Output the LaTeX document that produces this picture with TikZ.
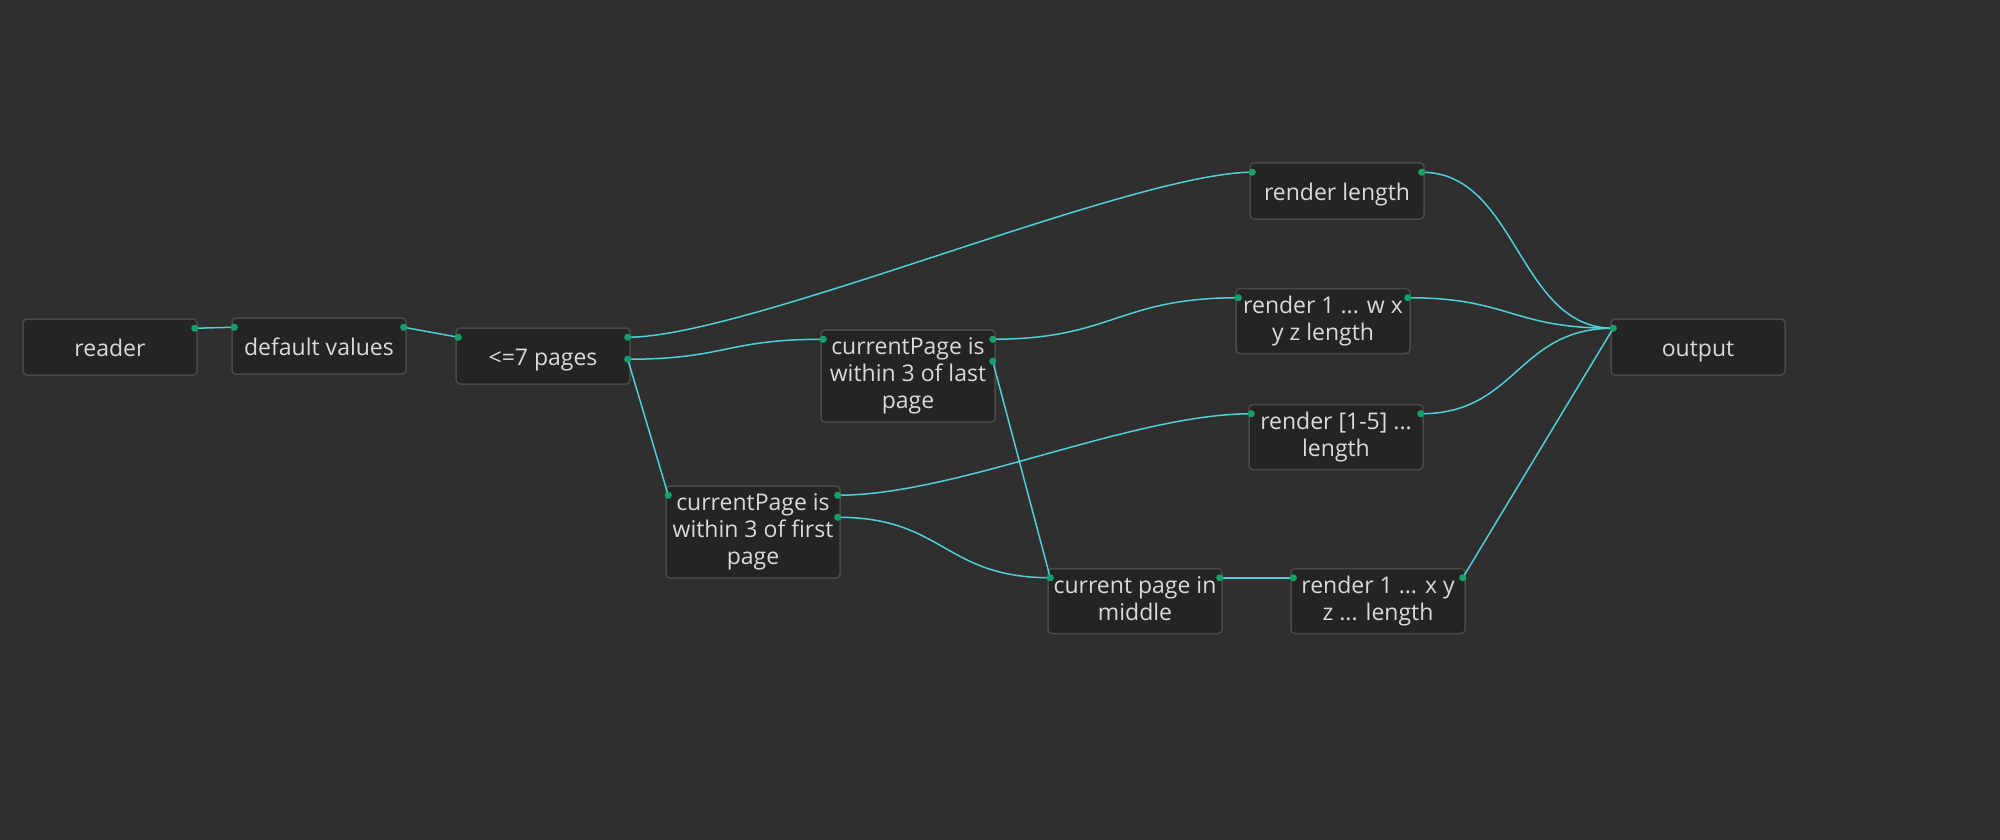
\documentclass[tikz,border=0pt]{standalone}
\usepackage{fontspec}
\setmainfont{Open Sans}
\usetikzlibrary{calc}
\definecolor{bgc}{HTML}{2F2F2F}
\definecolor{boxfill}{HTML}{242424}
\definecolor{boxline}{HTML}{4A4A4A}
\definecolor{txt}{HTML}{DADADA}
\definecolor{wirec}{HTML}{4FD0D8}
\definecolor{dotc}{HTML}{17A06A}
\newcommand\mkports[1]{%
  \coordinate (#1-in) at ($(#1.north west)+(3,-10)$);
  \coordinate (#1-o1) at ($(#1.north east)+(-3,-10)$);
  \coordinate (#1-o2) at ($(#1.north east)+(-3,-32)$);
}
\newcommand\wirecurve[2]{\draw[wire] let \p1=(#1), \p2=(#2), \n1={min((\x2-\x1)/2,120)} in (\p1) .. controls +(\n1,0) and +(-\n1,0) .. (\p2);}
\newcommand\portdot[1]{\fill[dotc] (#1) circle (3.6);}
\begin{document}
\begin{tikzpicture}[x=1pt,y=1pt,
  box/.style={draw=boxline, line width=1.5pt, fill=boxfill, rounded corners=4pt,
    minimum width=174pt, text=txt, align=center, inner sep=0pt,
    font=\fontsize{23}{27}\selectfont,
    execute at begin node={\rule{0pt}{24pt}},
    execute at end node={\rule[-5pt]{0pt}{5pt}}},
  hone/.style={minimum height=56pt},
  htwo/.style={minimum height=65pt, execute at begin node={\rule{0pt}{29pt}}},
  hthree/.style={minimum height=92pt, execute at begin node={\rule{0pt}{29pt}}},
  wire/.style={draw=wirec, line width=1.5pt}]
\fill[bgc] (0,0) rectangle (2000,-840);
\useasboundingbox (0,0) rectangle (2000,-840);

\node[box,hone] (reader) at (110,-347) {reader};
\node[box,hone] (defaults) at (319,-346) {default values};
\node[box,hone] (le7) at (543,-356) {<=7 pages};
\node[box,hthree] (last) at (908,-376) {currentPage is\\within 3 of last\\page};
\node[box,hthree] (first) at (753,-532) {currentPage is\\within 3 of first\\page};
\node[box,hone] (rlen) at (1337,-191) {render length};
\node[box,htwo] (rwx) at (1323,-321) {render 1 ... w x\\y z length};
\node[box,htwo] (r15) at (1336,-437) {render [1-5] ...\\length};
\node[box,htwo] (middle) at (1135,-601) {current page in\\middle};
\node[box,htwo] (rxyz) at (1378,-601) {render 1 ... x y\\z ... length};
\node[box,hone] (output) at (1698,-347) {output};

\mkports{reader}\mkports{defaults}\mkports{le7}\mkports{last}\mkports{first}
\mkports{rlen}\mkports{rwx}\mkports{r15}\mkports{middle}\mkports{rxyz}\mkports{output}

\draw[wire] (reader-o1) -- (defaults-in);
\draw[wire] (defaults-o1) -- (le7-in);
\wirecurve{le7-o1}{rlen-in}
\wirecurve{le7-o2}{last-in}
\draw[wire] (le7-o2) -- (first-in);
\wirecurve{last-o1}{rwx-in}
\draw[wire] (last-o2) -- (middle-in);
\wirecurve{first-o1}{r15-in}
\wirecurve{first-o2}{middle-in}
\draw[wire] (middle-o1) -- (rxyz-in);
\wirecurve{rlen-o1}{output-in}
\wirecurve{rwx-o1}{output-in}
\wirecurve{r15-o1}{output-in}
\draw[wire] (rxyz-o1) -- (output-in);

\portdot{reader-o1}
\portdot{defaults-in}\portdot{defaults-o1}
\portdot{le7-in}\portdot{le7-o1}\portdot{le7-o2}
\portdot{last-in}\portdot{last-o1}\portdot{last-o2}
\portdot{first-in}\portdot{first-o1}\portdot{first-o2}
\portdot{rlen-in}\portdot{rlen-o1}
\portdot{rwx-in}\portdot{rwx-o1}
\portdot{r15-in}\portdot{r15-o1}
\portdot{middle-in}\portdot{middle-o1}
\portdot{rxyz-in}\portdot{rxyz-o1}
\portdot{output-in}
\end{tikzpicture}
\end{document}
